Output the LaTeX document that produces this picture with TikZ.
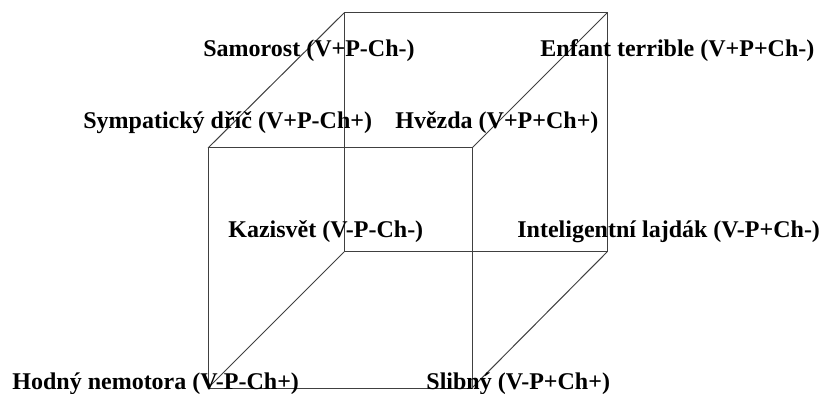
\documentclass[tikz,border=0pt]{standalone}
\usepackage{fontspec}
\setmainfont{Liberation Serif}
\definecolor{edge}{rgb}{.25,.25,.25}

\begin{document}
\begin{tikzpicture}[x=0.5pt, y=-0.5pt,
	lbl/.style={anchor=base west, inner sep=0pt, font=\bfseries\fontsize{12}{14}\selectfont}]

	\useasboundingbox (0,0) rectangle (822,394);

	% corners of the cube
	\coordinate (ftl) at (208,148);
	\coordinate (ftr) at (472,148);
	\coordinate (fbr) at (472,388);
	\coordinate (fbl) at (208,388);
	\coordinate (btl) at (344,13);
	\coordinate (btr) at (607,13);
	\coordinate (bbr) at (607,252);
	\coordinate (bbl) at (344,252);

	\draw[edge, line width=.5pt] (ftl) -- (ftr) -- (fbr) -- (fbl) -- cycle;
	\draw[edge, line width=.5pt] (btl) -- (btr) -- (bbr) -- (bbl) -- cycle;
	\draw[edge, line width=.5pt] (fbl) -- (bbl);
	\draw[edge, line width=.5pt] (ftl) -- (btl);
	\draw[edge, line width=.5pt] (ftr) -- (btr);
	\draw[edge, line width=.5pt] (fbr) -- (bbr);

	\node[lbl] (samorost) at (203,57) {Samorost (V+P-Ch-)};
	\node[lbl] (enfant) at (540,57) {Enfant terrible (V+P+Ch-)};
	\node[lbl] (sympaticky) at (83,129) {Sympatický dříč (V+P-Ch+)};
	\node[lbl] (hvezda) at (395,129) {Hvězda (V+P+Ch+)};
	\node[lbl] (kazisvet) at (228,238) {Kazisvět (V-P-Ch-)};
	\node[lbl] (lajdak) at (517,238) {Inteligentní lajdák (V-P+Ch-)};
	\node[lbl] (hodny) at (12,389) {Hodný nemotora (V-P-Ch+)};
	\node[lbl] (slibny) at (426,389) {Slibný (V-P+Ch+)};

\end{tikzpicture}
\end{document}
